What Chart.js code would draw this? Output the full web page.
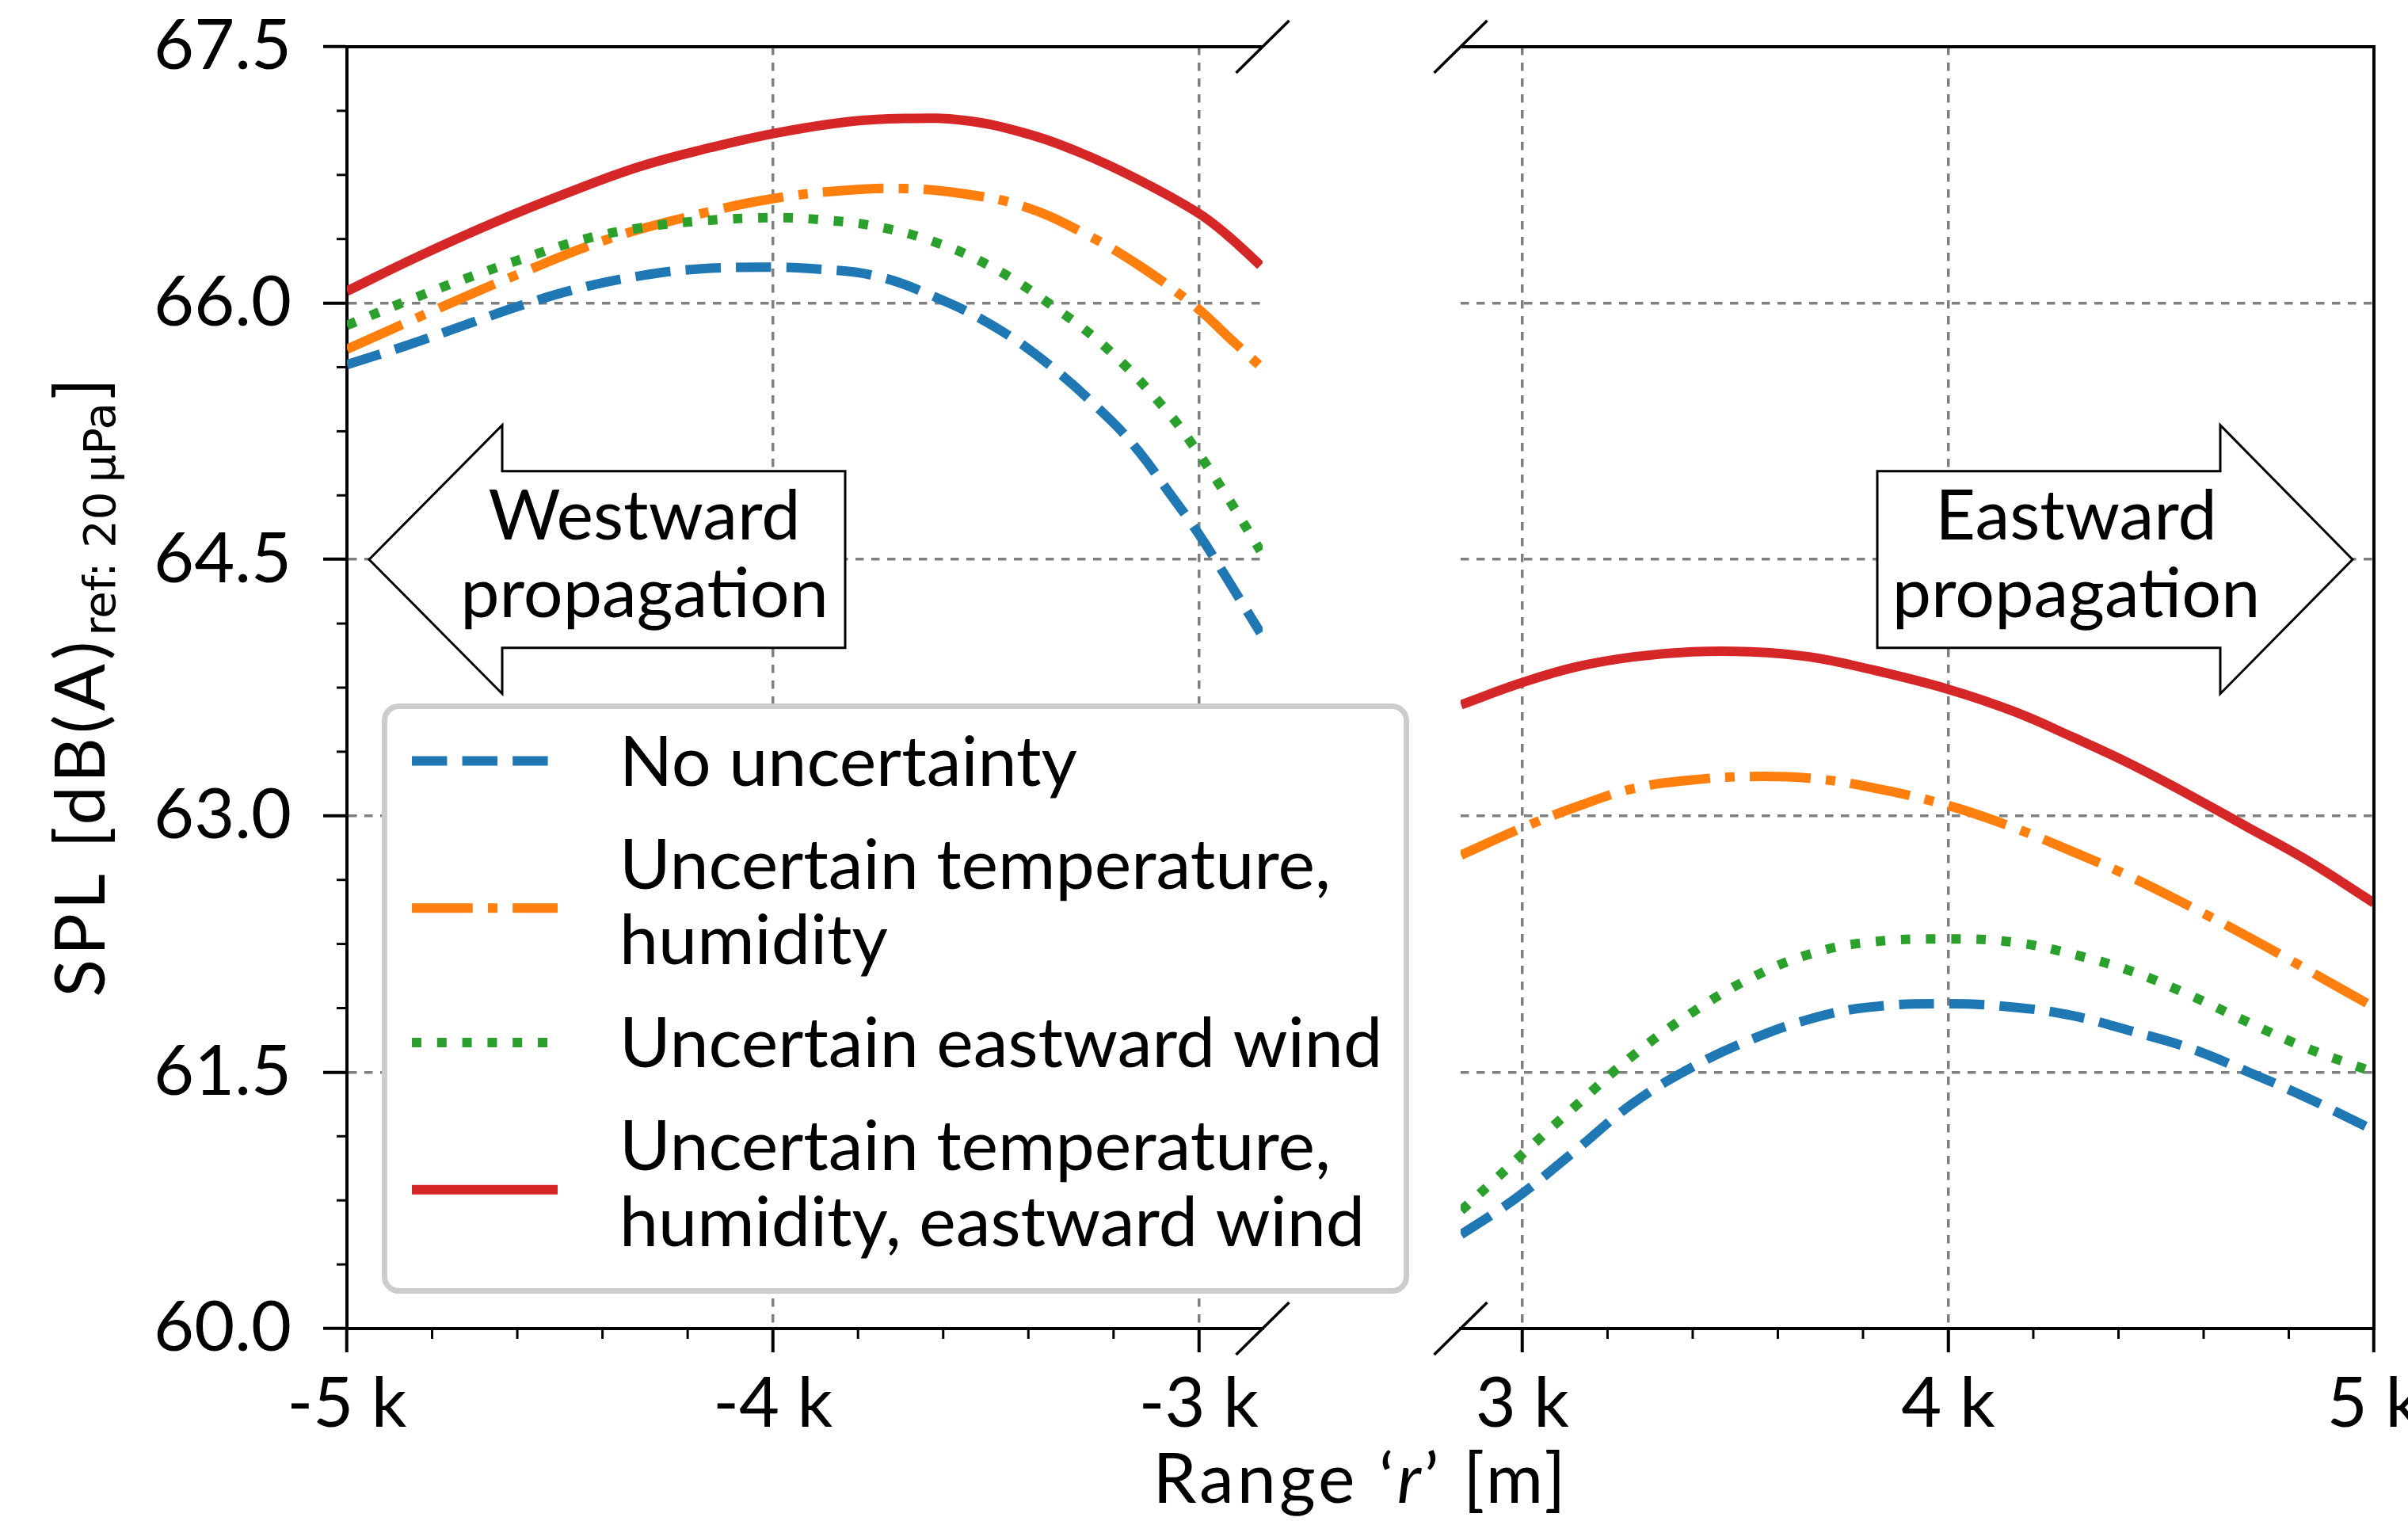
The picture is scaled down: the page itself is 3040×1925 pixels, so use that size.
<!DOCTYPE html>
<html><head><meta charset="utf-8">
<script src="https://cdn.jsdelivr.net/npm/chart.js@4.4.1/dist/chart.umd.min.js"></script>
<style>
html,body{margin:0;padding:0;background:#fff;}
#wrap{position:relative;width:3040px;height:1925px;background:#fff;}
canvas{position:absolute;left:0;top:0;}
</style></head><body>
<div id="wrap"><canvas id="cL" width="3040" height="1925"></canvas><canvas id="cR" width="3040" height="1925"></canvas></div>
<script>
// ---------------- DATA ----------------
const seriesLabels = [
  ['No uncertainty'],
  ['Uncertain temperature,', 'humidity'],
  ['Uncertain eastward wind'],
  ['Uncertain temperature,', 'humidity, eastward wind']
];
// Westward (left panel), range in m
const westNoUncX = [-5000,-4862,-4725,-4587,-4449,-4311,-4174,-4003,-3898,-3760,-3623,-3485,-3347,-3209,-3140,-3072,-3003,-2934,-2855];
const westNoUncY = [65.64,65.75,65.87,65.99,66.09,66.16,66.20,66.21,66.20,66.16,66.04,65.87,65.63,65.32,65.13,64.90,64.66,64.39,64.07];
const westTempHumX = [-5000,-4793,-4587,-4380,-4174,-4003,-3829,-3691,-3554,-3416,-3278,-3140,-3003,-2934,-2855];
const westTempHumY = [65.73,65.96,66.18,66.38,66.52,66.61,66.66,66.67,66.64,66.57,66.42,66.22,65.97,65.81,65.63];
const westWindX = [-5000,-4862,-4725,-4587,-4449,-4311,-4174,-4003,-3898,-3760,-3623,-3485,-3347,-3209,-3072,-3003,-2934,-2855];
const westWindY = [65.87,66.01,66.14,66.26,66.37,66.44,66.48,66.50,66.49,66.45,66.36,66.21,65.99,65.72,65.36,65.13,64.87,64.55];
const westAllX = [-5000,-4835,-4656,-4477,-4311,-4146,-4003,-3829,-3691,-3554,-3416,-3278,-3140,-3003,-2934,-2855];
const westAllY = [66.07,66.27,66.47,66.65,66.80,66.91,66.99,67.06,67.08,67.07,67.00,66.88,66.72,66.53,66.40,66.22];
// Eastward (right panel)
const eastNoUncX = [2856,2931,3000,3124,3261,3399,3536,3674,3812,4001,4155,4293,4431,4568,4706,4843,5000];
const eastNoUncY = [60.55,60.67,60.79,61.04,61.32,61.53,61.69,61.81,61.88,61.90,61.88,61.83,61.74,61.64,61.50,61.35,61.16];
const eastTempHumX = [2856,3000,3124,3261,3399,3536,3674,3812,4001,4155,4293,4431,4568,4706,4843,5000];
const eastTempHumY = [62.77,62.93,63.05,63.16,63.21,63.23,63.22,63.17,63.06,62.93,62.79,62.64,62.47,62.29,62.10,61.88];
const eastWindX = [2856,2931,3000,3124,3261,3399,3536,3674,3812,4001,4155,4293,4431,4568,4706,4843,5000];
const eastWindY = [60.69,60.86,61.02,61.30,61.60,61.85,62.05,62.19,62.26,62.28,62.26,62.19,62.09,61.95,61.79,61.64,61.50];
const eastAllX = [2856,3000,3124,3261,3399,3536,3674,3812,4001,4155,4293,4431,4568,4706,4843,5000];
const eastAllY = [63.65,63.78,63.87,63.93,63.96,63.96,63.93,63.86,63.74,63.61,63.46,63.30,63.12,62.93,62.74,62.49];
// Ticks
const xTicksLeft = [-5000, -4000, -3000];
const xTickLabelsLeft = ['-5 k', '-4 k', '-3 k'];
const xTicksRight = [3000, 4000, 5000];
const xTickLabelsRight = ['3 k', '4 k', '5 k'];
const yTicks = [60, 61.5, 63, 64.5, 66, 67.5];
const yTickLabels = ['60.0', '61.5', '63.0', '64.5', '66.0', '67.5'];
const xLimLeft = [-5000, -2850];
const xLimRight = [2855, 5000];
const yLim = [60, 67.5];
const arrowLabels = [['Westward', 'propagation'], ['Eastward', 'propagation']];
const yTitleMain = 'SPL [dB(A)';
const yTitleSub = 'ref: 20\u2009\u03bcPa';
const yTitleEnd = ']';
const xTitleParts = ['Range \u2018', 'r', '\u2019 [m]'];

// ---------------- STYLE ----------------
const FONT = 'Lato';
const FS = 88;
const LW = 12;
const colors = ['#1f77b4', '#ff7f0e', '#2ca02c', '#d62728'];
const dashes = [[3.7*LW, 1.6*LW], [6.4*LW, 1.6*LW, 1*LW, 1.6*LW], [1*LW, 1.65*LW], []];
const GRID = '#808080';
const GRID_DASH = [10.5, 9.5];

function mkData(xs, ys) { return xs.map((x, i) => ({x: x, y: ys[i]})); }
function mkDatasets(list) {
  return list.map((p, i) => ({
    label: seriesLabels[i].join(' '),
    data: mkData(p[0], p[1]),
    borderColor: colors[i],
    backgroundColor: colors[i],
    borderWidth: LW,
    borderDash: dashes[i],
    borderCapStyle: 'butt',
    pointRadius: 0,
    fill: false,
    tension: 0.4,
    clip: 0,
    order: 3 - i
  }));
}

function line(ctx, x1, y1, x2, y2, w, c) {
  ctx.save(); ctx.beginPath(); ctx.lineWidth = w; ctx.strokeStyle = c; ctx.setLineDash([]);
  ctx.moveTo(x1, y1); ctx.lineTo(x2, y2); ctx.stroke(); ctx.restore();
}
function breakMark(ctx, cx, cy) { line(ctx, cx - 33.5, cy + 33, cx + 33.5, cy - 33, 3.5, '#000'); }
function minorX(ctx, scale, a, vals) {
  vals.forEach(v => { const p = scale.getPixelForValue(v); line(ctx, p, a.bottom, p, a.bottom + 13, 3, '#000'); });
}
function drawArrow(ctx, tipX, headX, endX, cy, texts, textX) {
  ctx.save();
  ctx.beginPath();
  ctx.moveTo(tipX, cy);
  ctx.lineTo(headX, cy - 169.5);
  ctx.lineTo(headX, cy - 111.5);
  ctx.lineTo(endX, cy - 111.5);
  ctx.lineTo(endX, cy + 111.5);
  ctx.lineTo(headX, cy + 111.5);
  ctx.lineTo(headX, cy + 169.5);
  ctx.closePath();
  ctx.fillStyle = '#fff'; ctx.fill();
  ctx.lineWidth = 3; ctx.strokeStyle = '#000'; ctx.lineJoin = 'miter'; ctx.stroke();
  ctx.fillStyle = '#000'; ctx.font = FS + 'px ' + FONT; ctx.textAlign = 'center'; ctx.textBaseline = 'alphabetic';
  ctx.fillText(texts[0], textX, cy - 25.5);
  ctx.fillText(texts[1], textX, cy + 73);
  ctx.restore();
}
function roundRect(ctx, x, y, w, h, r) {
  ctx.beginPath();
  ctx.moveTo(x + r, y); ctx.lineTo(x + w - r, y); ctx.arcTo(x + w, y, x + w, y + r, r);
  ctx.lineTo(x + w, y + h - r); ctx.arcTo(x + w, y + h, x + w - r, y + h, r);
  ctx.lineTo(x + r, y + h); ctx.arcTo(x, y + h, x, y + h - r, r);
  ctx.lineTo(x, y + r); ctx.arcTo(x, y, x + r, y, r); ctx.closePath();
}

const xMinorLeft = []; for (let v = xLimLeft[0]; v <= xLimLeft[1]; v += 200) if (v % 1000 !== 0) xMinorLeft.push(v);
const xMinorRight = []; for (let v = 3000; v <= xLimRight[1]; v += 200) if (v % 1000 !== 0) xMinorRight.push(v);
const yMinor = []; for (let k = 1; k < 20; k++) if (k % 4 !== 0) yMinor.push(yLim[0] + 0.375 * k);

const leftDecor = {
  id: 'leftDecor',
  afterDraw(chart) {
    const {ctx, chartArea: a, scales: {x, y}} = chart;
    ctx.save();
    // top spine
    line(ctx, a.left - 2, a.top, a.right, a.top, 4, '#000');
    // minor ticks
    minorX(ctx, x, a, xMinorLeft);
    yMinor.forEach(v => { const p = y.getPixelForValue(v); line(ctx, a.left - 13, p, a.left, p, 3, '#000'); });
    // break marks
    breakMark(ctx, a.right, a.top); breakMark(ctx, a.right, a.bottom);
    // westward arrow
    const cy = y.getPixelForValue(64.5);
    drawArrow(ctx, a.left + 28, a.left + 196, a.left + 629, cy, arrowLabels[0], a.left + 375.5);
    // legend
    const lx = 485.5, ly = 891.5, lw = 1290, lh = 738;
    roundRect(ctx, lx, ly, lw, lh, 18);
    ctx.fillStyle = '#fff'; ctx.fill();
    ctx.lineWidth = 7; ctx.strokeStyle = '#cccccc'; ctx.stroke();
    ctx.font = FS + 'px ' + FONT; ctx.textAlign = 'left'; ctx.textBaseline = 'alphabetic'; ctx.fillStyle = '#000';
    let base = 991.5;
    chart.data.datasets.forEach((ds, i) => {
      const lines = seriesLabels[i];
      const first = base;
      lines.forEach((t, j) => { ctx.fillText(t, 782, base); if (j < lines.length - 1) base += 95.5; });
      const last = base;
      const sy = (first + last) / 2 - 31 + (lines.length - 1) * 8;
      ctx.save(); ctx.beginPath(); ctx.lineWidth = LW; ctx.strokeStyle = ds.borderColor; ctx.lineCap = 'butt';
      ctx.setLineDash(ds.borderDash); ctx.moveTo(520, sy); ctx.lineTo(704, sy); ctx.stroke(); ctx.restore();
      base += 130;
    });
    // y title
    ctx.save();
    ctx.translate(131.7, (a.top + a.bottom) / 2);
    ctx.rotate(-Math.PI / 2);
    ctx.fillStyle = '#000'; ctx.textBaseline = 'alphabetic'; ctx.textAlign = 'left';
    const fMain = FS + 'px ' + FONT, fSub = '56px "DejaVu Sans"';
    ctx.letterSpacing = '5px';
    ctx.font = fMain; const w1 = ctx.measureText(yTitleMain).width;
    ctx.letterSpacing = '0px';
    const w3 = ctx.measureText(yTitleEnd).width;
    ctx.font = fSub; const w2 = ctx.measureText(yTitleSub).width;
    let sx = -(w1 + w2 + w3 + 6) / 2;
    ctx.letterSpacing = '5px';
    ctx.font = fMain; ctx.fillText(yTitleMain, sx, 0); sx += w1 + 2;
    ctx.letterSpacing = '0px';
    ctx.font = fSub; ctx.fillText(yTitleSub, sx, 13); sx += w2 + 4;
    ctx.font = fMain; ctx.fillText(yTitleEnd, sx, 0);
    ctx.restore();
    // x title
    ctx.save();
    ctx.letterSpacing = '4px';
    const fonts = [FS + 'px ' + FONT, 'italic ' + FS + 'px ' + FONT, FS + 'px ' + FONT];
    let tw = 0; const ws = xTitleParts.map((t, i) => { ctx.font = fonts[i]; const w = ctx.measureText(t).width; tw += w; return w; });
    let tx = 1718 - tw / 2;
    ctx.fillStyle = '#000'; ctx.textAlign = 'left'; ctx.textBaseline = 'alphabetic';
    xTitleParts.forEach((t, i) => { ctx.font = fonts[i]; ctx.fillText(t, tx, 1897); tx += ws[i]; });
    ctx.restore();
    ctx.restore();
  }
};

const rightDecor = {
  id: 'rightDecor',
  afterDraw(chart) {
    const {ctx, chartArea: a, scales: {x, y}} = chart;
    ctx.save();
    line(ctx, a.left, a.top, a.right + 2, a.top, 4, '#000');
    line(ctx, a.right, a.top - 2, a.right, a.bottom + 2, 4, '#000');
    minorX(ctx, x, a, xMinorRight);
    breakMark(ctx, a.left, a.top); breakMark(ctx, a.left, a.bottom);
    const cy = y.getPixelForValue(64.5);
    drawArrow(ctx, a.right - 27, a.right - 194, a.right - 627, cy, arrowLabels[1], a.right - 376);
    ctx.restore();
  }
};

Chart.defaults.font.family = FONT;
Chart.defaults.color = '#000';

function xScale(lim, ticks, labels) {
  return {
    type: 'linear', position: 'bottom', min: lim[0], max: lim[1],
    afterBuildTicks: s => { s.ticks = ticks.map(v => ({value: v})); },
    afterFit: s => { s.height = 1925 - 1677; s.paddingLeft = 0; s.paddingRight = 0; s.paddingTop = 0; s.paddingBottom = 0; },
    ticks: { autoSkip: false, maxRotation: 0, minRotation: 0, padding: 22,
      font: {family: FONT, size: FS, lineHeight: 1}, color: '#000',
      callback: v => labels[ticks.indexOf(v)] },
    grid: { color: GRID, lineWidth: 3.5, drawTicks: true, tickLength: 30, tickColor: '#000', tickWidth: 4 },
    border: { display: true, color: '#000', width: 4, dash: GRID_DASH }
  };
}

new Chart(document.getElementById('cL'), {
  type: 'line',
  data: { datasets: mkDatasets([[westNoUncX, westNoUncY], [westTempHumX, westTempHumY], [westWindX, westWindY], [westAllX, westAllY]]) },
  options: {
    responsive: false, animation: false, devicePixelRatio: 1, events: [],
    layout: { padding: { left: 0, right: 3040 - 1594, top: 59, bottom: 0 } },
    plugins: { legend: { display: false }, tooltip: { enabled: false } },
    scales: {
      x: xScale(xLimLeft, xTicksLeft, xTickLabelsLeft),
      y: {
        type: 'linear', position: 'left', min: yLim[0], max: yLim[1],
        afterBuildTicks: s => { s.ticks = yTicks.map(v => ({value: v})); },
        afterFit: s => { s.width = 438; s.paddingLeft = 0; s.paddingRight = 0; s.paddingTop = 0; s.paddingBottom = 0; },
        ticks: { autoSkip: false, padding: 40, font: {family: FONT, size: FS, lineHeight: 1}, color: '#000',
          callback: v => yTickLabels[yTicks.indexOf(v)] },
        grid: { color: GRID, lineWidth: 3.5, drawTicks: true, tickLength: 30, tickColor: '#000', tickWidth: 4 },
        border: { display: true, color: '#000', width: 4, dash: GRID_DASH }
      }
    }
  },
  plugins: [leftDecor]
});

new Chart(document.getElementById('cR'), {
  type: 'line',
  data: { datasets: mkDatasets([[eastNoUncX, eastNoUncY], [eastTempHumX, eastTempHumY], [eastWindX, eastWindY], [eastAllX, eastAllY]]) },
  options: {
    responsive: false, animation: false, devicePixelRatio: 1, events: [],
    layout: { padding: { left: 1844, right: 3040 - 2997, top: 59, bottom: 0 } },
    plugins: { legend: { display: false }, tooltip: { enabled: false } },
    scales: {
      x: xScale(xLimRight, xTicksRight, xTickLabelsRight),
      y: {
        type: 'linear', position: 'left', min: yLim[0], max: yLim[1],
        afterBuildTicks: s => { s.ticks = yTicks.map(v => ({value: v})); },
        afterFit: s => { s.width = 0; s.paddingLeft = 0; s.paddingRight = 0; s.paddingTop = 0; s.paddingBottom = 0; },
        ticks: { display: false },
        grid: { color: GRID, lineWidth: 3.5, drawTicks: false },
        border: { display: false, dash: GRID_DASH }
      }
    }
  },
  plugins: [rightDecor]
});
</script>
</body></html>
